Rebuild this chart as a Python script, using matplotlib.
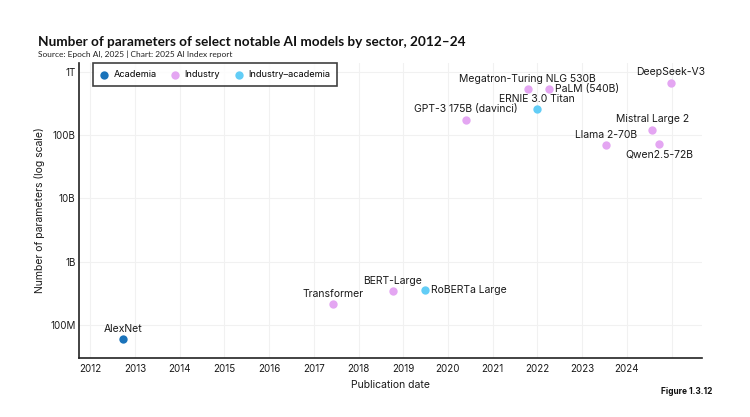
import matplotlib
matplotlib.use("Agg")
import matplotlib.pyplot as plt
from matplotlib.ticker import FixedLocator, NullLocator

plt.rcParams['font.family'] = ['Inter', 'DejaVu Sans']

models = ["AlexNet", "Transformer", "BERT-Large", "RoBERTa Large", "GPT-3 175B (davinci)",
          "Megatron-Turing NLG 530B", "ERNIE 3.0 Titan", "PaLM (540B)", "Llama 2-70B",
          "Mistral Large 2", "Qwen2.5-72B", "DeepSeek-V3"]
dates = [2012.74, 2017.44, 2018.77, 2019.48, 2020.40, 2021.78, 2021.98, 2022.26,
         2023.54, 2024.57, 2024.72, 2024.98]
params = [60e6, 213e6, 340e6, 355e6, 175e9, 530e9, 260e9, 540e9, 70e9, 123e9, 72.7e9, 671e9]
sectors = ["Academia", "Industry", "Industry", "Industry–academia", "Industry", "Industry",
           "Industry–academia", "Industry", "Industry", "Industry", "Industry", "Industry"]
label_pos = ["above", "above", "above", "right", "above", "above", "above", "right",
             "above", "above", "below", "above"]

sector_order = ["Academia", "Industry", "Industry–academia"]
colors = {"Academia": "#1a73ba", "Industry": "#e4a6f2", "Industry–academia": "#62cdf6"}

ytick_vals = [1e8, 1e9, 1e10, 1e11, 1e12]
ytick_labels = ["100M", "1B", "10B", "100B", "1T"]
xtick_vals = list(range(2012, 2026))
xtick_labels = [str(y) for y in range(2012, 2025)] + [""]

fig = plt.figure(figsize=(7.5, 4.17), dpi=100)
ax = fig.add_axes([0.1053, 0.1415, 0.8307, 0.7075])

for s in sector_order:
    xs = [d for d, sec in zip(dates, sectors) if sec == s]
    ys = [p for p, sec in zip(params, sectors) if sec == s]
    ax.scatter(xs, ys, s=36, color=colors[s], label=s, zorder=3, linewidths=0)

for name, d, p, pos in zip(models, dates, params, label_pos):
    if pos == "above":
        off, ha, va = (0, 7.5), "center", "center"
    elif pos == "below":
        off, ha, va = (0, -7.5), "center", "center"
    else:
        off, ha, va = (4.5, 0), "left", "center"
    ax.annotate(name, (d, p), xytext=off, textcoords="offset points",
                ha=ha, va=va, fontsize=7.5, color="#1a1a1a", zorder=4)

ax.set_yscale("log")
ax.set_xlim(2011.75, 2025.68)
ax.set_ylim(10**7.478, 10**12.142)
ax.yaxis.set_major_locator(FixedLocator(ytick_vals))
ax.set_yticklabels(ytick_labels)
ax.yaxis.set_minor_locator(NullLocator())
ax.set_xticks(xtick_vals)
ax.set_xticklabels(xtick_labels)

ax.grid(True, color="#f1f1f1", linewidth=0.8, zorder=0)
ax.set_axisbelow(True)
for side in ["top", "right"]:
    ax.spines[side].set_visible(False)
for side in ["left", "bottom"]:
    ax.spines[side].set_color("#222222")
    ax.spines[side].set_linewidth(1.2)
ax.tick_params(axis="both", length=0, labelsize=7, colors="#1a1a1a")
ax.tick_params(axis="x", pad=4)
ax.tick_params(axis="y", pad=2.5)

ax.set_xlabel("Publication date", fontsize=7.5, color="#1a1a1a", labelpad=5)
ax.set_ylabel("Number of parameters (log scale)", fontsize=7.5, color="#1a1a1a", labelpad=4)

leg = ax.legend(loc="upper left", bbox_to_anchor=(0.021, 1.0), ncol=3, fontsize=6.6,
                frameon=True, fancybox=False, edgecolor="#111111", borderpad=0.75,
                borderaxespad=0.05, handletextpad=0.55, columnspacing=1.5,
                handlelength=1.0, markerscale=1.0)
leg.get_frame().set_linewidth(1.2)

fig.text(0.05, 0.9, "Number of parameters of select notable AI models by sector, 2012–24",
         fontsize=9.85, fontweight="bold", color="#111111", ha="left", va="center",
         family=["Lato", "DejaVu Sans"])
fig.text(0.05, 0.871, "Source: Epoch AI, 2025 | Chart: 2025 AI Index report",
         fontsize=6, color="#222222", ha="left", va="center", family=["Lato", "DejaVu Sans"])
fig.text(0.95, 0.06, "Figure 1.3.12", fontsize=6, fontweight="bold", color="#111111",
         ha="right", va="center")

fig.savefig("out.png", dpi=100)
